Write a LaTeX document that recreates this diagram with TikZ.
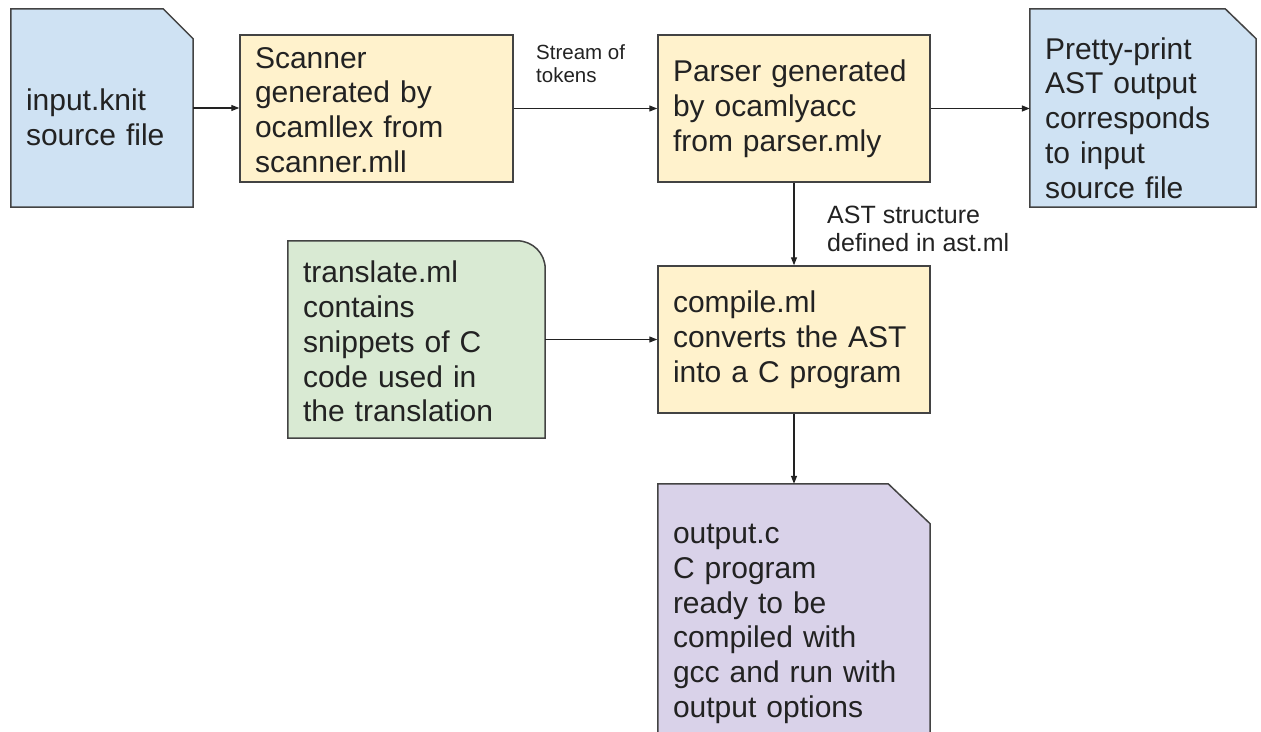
\documentclass[tikz,border=0pt]{standalone}
\usepackage{fontspec}
\setmainfont{Liberation Sans}
\usetikzlibrary{arrows.meta,backgrounds}
\definecolor{bluefill}{HTML}{CFE2F3}
\definecolor{yellowfill}{HTML}{FFF2CC}
\definecolor{greenfill}{HTML}{D9EAD3}
\definecolor{purplefill}{HTML}{D9D2E9}
\definecolor{edge}{HTML}{434343}
\definecolor{txt}{HTML}{222222}
\tikzset{
  shapebox/.style={rectangle, inner sep=0pt, align=left, text=txt,
    font=\fontsize{30}{34.8}\selectfont},
  plainbox/.style={shapebox, draw=edge, line width=1.5pt},
  outline/.style={draw=edge, line width=1.5pt},
  conn/.style={draw=txt, line width=1.3pt, -{Triangle[length=8pt,width=6pt]}},
  smalllabel/.style={inner sep=0pt, align=left, text=txt}
}
\begin{document}
\begin{tikzpicture}[x=1pt,y=-1pt]
\useasboundingbox (0,0) rectangle (1261,731);
\clip (0,0) rectangle (1261,731);

% nodes
\node[shapebox, minimum width=182pt, minimum height=198pt, text width=152pt] (in) at (102,108) {\parbox{152pt}{\vspace*{18pt}input.knit\\source file}};
\node[plainbox, fill=yellowfill, minimum width=273pt, minimum height=147pt, text width=243pt] (scan) at (376.5,108.5) {\parbox{243pt}{\vspace*{3pt}Scanner\\generated by\\ocamllex from\\scanner.mll}};
\node[plainbox, fill=yellowfill, minimum width=272pt, minimum height=147pt, text width=242pt] (pars) at (794,108.5) {Parser generated\\by ocamlyacc\\from parser.mly};
\node[shapebox, minimum width=226pt, minimum height=198pt, text width=196pt] (pretty) at (1143,108) {\parbox{196pt}{\vspace*{20pt}Pretty-print\\AST output\\corresponds\\to input\\source file}};
\node[shapebox, minimum width=257pt, minimum height=197pt, text width=227pt] (trans) at (416.5,339.5) {\parbox{227pt}{\vspace*{4pt}translate.ml\\contains\\snippets of C\\code used in\\the translation}};
\node[plainbox, fill=yellowfill, minimum width=272pt, minimum height=147pt, text width=242pt] (comp) at (794,339.5) {compile.ml\\converts the AST\\into a C program};
\node[shapebox, minimum width=272pt, minimum height=272pt, text width=242pt] (out) at (794,620) {\parbox{242pt}{\vspace*{8pt}output.c\\C program\\ready to be\\compiled with\\gcc and run with\\output options}};

% labels
\node[smalllabel, anchor=west, font=\fontsize{20.5}{23}\selectfont] (stream) at (536,64) {Stream of\\tokens};
\node[smalllabel, anchor=west, font=\fontsize{25}{28.5}\selectfont] (astlabel) at (827,229) {AST structure\\defined in ast.ml};

% outlines of special shapes
\begin{scope}[on background layer]
\path[outline, fill=bluefill] (in.north west) -- ([xshift=-30pt]in.north east) -- ([yshift=-30pt]in.north east) -- (in.south east) -- (in.south west) -- cycle;
\path[outline, fill=bluefill] (pretty.north west) -- ([xshift=-31pt]pretty.north east) -- ([yshift=-30pt]pretty.north east) -- (pretty.south east) -- (pretty.south west) -- cycle;
\path[outline, fill=greenfill] (trans.south west) -- (trans.north west) -- ([xshift=-28pt]trans.north east) arc[start angle=90, end angle=0, radius=28pt] -- (trans.south east) -- cycle;
\path[outline, fill=purplefill] (out.north west) -- ([xshift=-42pt]out.north east) -- ([yshift=-40pt]out.north east) -- (out.south east) -- (out.south west) -- cycle;
\end{scope}

% connectors
\draw[conn] (in.east) -- (in.east -| scan.west);
\draw[conn] (scan.east) -- (scan.east -| pars.west);
\draw[conn] (pars.east) -- (pars.east -| pretty.west);
\draw[conn] (pars.south) -- (comp.north);
\draw[conn] (trans.east) -- (trans.east -| comp.west);
\draw[conn] (comp.south) -- (out.north);
\end{tikzpicture}
\end{document}
